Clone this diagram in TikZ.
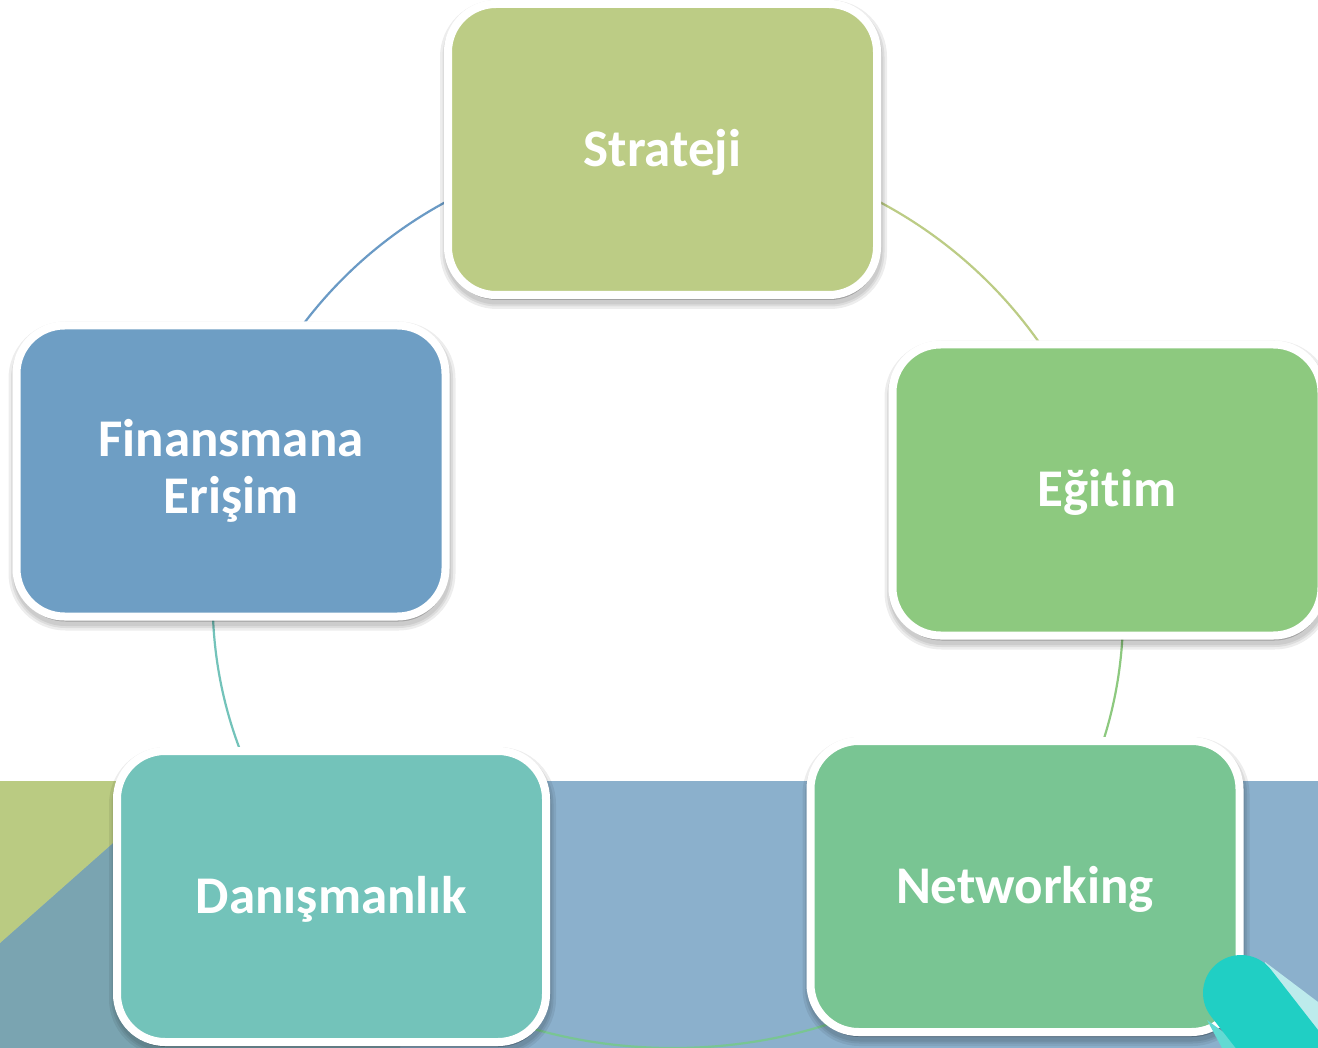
\documentclass[tikz,border=0pt]{standalone}
\usepackage{fontspec}
\setmainfont{Carlito}[Ligatures={NoCommon}]
\definecolor{cS}{HTML}{BCCC85}
\definecolor{cF}{HTML}{6E9EC4}
\definecolor{cE}{HTML}{8DC97F}
\definecolor{cN}{HTML}{79C593}
\definecolor{cD}{HTML}{73C3BA}
\definecolor{bandblue}{HTML}{8BB0CC}
\definecolor{leftgreen}{HTML}{BACB82}
\definecolor{leftblue}{HTML}{7AA4B1}
\definecolor{pillteal}{HTML}{20CFC4}
\definecolor{pilllight}{HTML}{BDEBEC}
\definecolor{pillmid}{HTML}{62DAD3}
\definecolor{lineF}{HTML}{6A9AC5}
\pgfdeclarelayer{bg}\pgfdeclarelayer{conn}\pgfdeclarelayer{fg}
\pgfsetlayers{bg,conn,main,fg}
\tikzset{
  shadowpass/.style={preaction={draw=black, fill=black, line width=#1, opacity=0.07,
    transform canvas={xshift=1pt, yshift=-5pt}}},
  box/.style={draw=white, line width=8pt, rounded corners=48pt,
    minimum width=429pt, minimum height=291pt, inner sep=0pt,
    text=white, font=\fontsize{53}{57}\selectfont\bfseries, align=center,
    shadowpass=18pt, shadowpass=13pt, shadowpass=9pt},
  onebox/.style={box, text height=34pt, text depth=0pt},
  link/.style={line width=2.2pt, looseness=0.95},
}
\begin{document}
\begin{tikzpicture}[x=1pt,y=1pt]
\useasboundingbox (0,0) rectangle (1318,-1048);
\begin{pgfonlayer}{bg}
  \fill[white] (0,0) rectangle (1318,-1048);
  \fill[bandblue] (0,-781) rectangle (1318,-1048);
  \fill[leftblue] (0,-943) -- (183,-781) -- (400,-781) -- (400,-1048) -- (0,-1048) -- cycle;
  \fill[leftgreen] (0,-781) -- (183,-781) -- (0,-943) -- cycle;
\end{pgfonlayer}

\node[onebox, fill=cS] (S) at (662.5,-149.5) {Strateji};
\node[box, fill=cF] (F) at (231,-471) {Finansmana\\Erişim};
\node[onebox, fill=cE] (E) at (1107,-490) {Eğitim};
\node[onebox, fill=cN] (N) at (1025,-886.5) {Networking};
\node[onebox, fill=cD] (D) at (331.5,-896.5) {Danışmanlık};

\begin{pgfonlayer}{conn}
  \draw[link, lineF] (S.center) to[bend right=38] (F.center);
  \draw[link, cS] (S.center) to[bend left=38.4] (E.center);
  \draw[link, cE] (E.center) to[bend left=26] (N.center);
  \draw[link, cN] (N.center) to[bend left=54] (D.center);
  \draw[link, cD] (D.center) to[bend left=29] (F.center);
\end{pgfonlayer}

\begin{pgfonlayer}{fg}
  \fill[pilllight] (1265,-962) -- (1318,-1002) -- (1318,-1060) -- (1290,-1060) -- cycle;
  \fill[pillmid] (1207,-1020) -- (1245,-1048) -- (1222,-1048) -- cycle;
  \draw[pillteal, line width=76pt, line cap=round] (1241,-993) -- (1333,-1111);
\end{pgfonlayer}
\end{tikzpicture}
\end{document}
